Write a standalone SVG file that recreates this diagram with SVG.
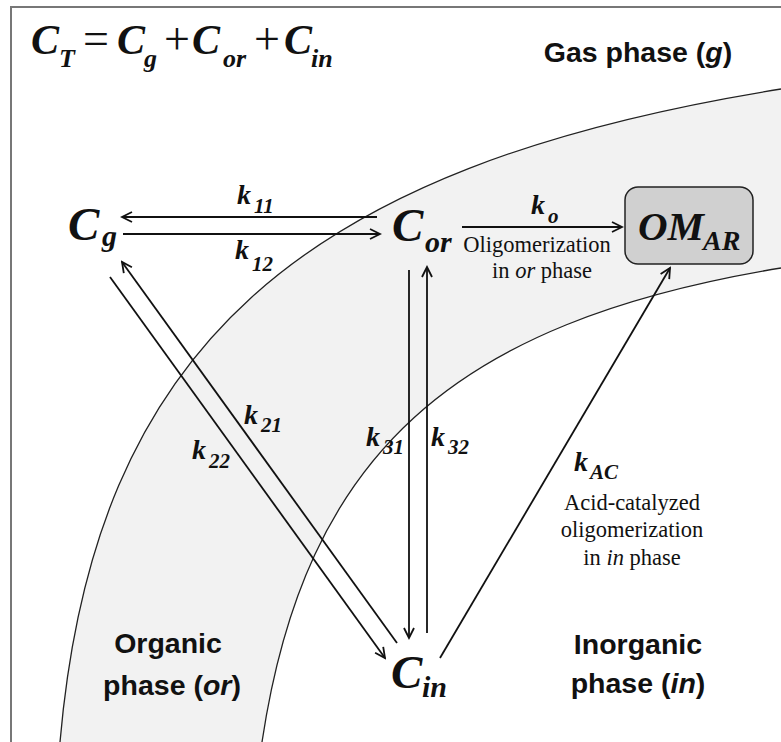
<svg xmlns="http://www.w3.org/2000/svg" width="781" height="742" viewBox="0 0 781 742">
<defs>
<marker id="ah" markerUnits="userSpaceOnUse" markerWidth="14" markerHeight="14" viewBox="0 0 14 14" refX="12" refY="7" orient="auto">
<path d="M2,2 L12,7 L2,12" fill="none" stroke="#111" stroke-width="1.8"/>
</marker>
<style>
.bi{font-family:"Liberation Serif",serif;font-weight:bold;font-style:italic;fill:#111}
.op{font-family:"Liberation Serif",serif;font-weight:normal;font-style:normal;fill:#111}
.rm{font-family:"Liberation Serif",serif;font-size:22.5px;fill:#111}
.ph{font-family:"Liberation Sans",sans-serif;font-weight:bold;font-size:28.5px;fill:#111}
.ln{fill:none;stroke:#111;stroke-width:1.8}
.arc{fill:none;stroke:#222;stroke-width:1.3}
</style>
</defs>
<rect width="781" height="742" fill="#fff"/>
<g id="background">
<path d="M781,89 C296,166.6 94,349.5 60,742 L262,742 C305,455.4 450.5,322.5 781,268 Z" fill="#f2f2f2"/>
<path class="arc" d="M781,89 C296,166.6 94,349.5 60,742"/>
<path class="arc" d="M262,742 C305,455.4 450.5,322.5 781,268"/>
<path d="M11,742 L11,7 L781,7" fill="none" stroke="#777" stroke-width="2"/>
</g>
<g id="formula">
<text class="bi" font-size="42"><tspan x="31" y="54">C</tspan><tspan x="59" y="67" font-size="26">T</tspan><tspan class="op" x="83" y="54" font-size="46">=</tspan><tspan x="117" y="54">C</tspan><tspan x="144" y="67" font-size="26">g</tspan><tspan class="op" x="164" y="54" font-size="46">+</tspan><tspan x="192" y="54">C</tspan><tspan x="223" y="67" font-size="26">or</tspan><tspan class="op" x="254" y="54" font-size="46">+</tspan><tspan x="284" y="54">C</tspan><tspan x="311" y="67" font-size="26">in</tspan></text>
</g>
<g id="gas-phase">
<text class="ph" x="638" y="62" text-anchor="middle">Gas phase (<tspan font-style="italic">g</tspan>)</text>
</g>
<g id="organic-phase">
<text class="ph" text-anchor="middle"><tspan x="168" y="653">Organic</tspan><tspan x="172" y="695">phase (<tspan font-style="italic">or</tspan>)</tspan></text>
</g>
<g id="inorganic-phase">
<text class="ph" text-anchor="middle"><tspan x="638" y="654">Inorganic</tspan><tspan x="638" y="693">phase (<tspan font-style="italic">in</tspan>)</tspan></text>
</g>
<g id="Cg">
<text class="bi" font-size="47"><tspan x="68" y="240">C</tspan><tspan x="102" y="246" font-size="30">g</tspan></text>
</g>
<g id="Cor">
<text class="bi" font-size="47"><tspan x="392" y="241">C</tspan><tspan x="425" y="252" font-size="30">or</tspan></text>
</g>
<g id="Cin">
<text class="bi" font-size="47"><tspan x="391" y="688">C</tspan><tspan x="422" y="697" font-size="30">in</tspan></text>
</g>
<g id="OMAR">
<rect x="625" y="187" width="128" height="77" rx="13" ry="13" fill="#d0d0d0" stroke="#222" stroke-width="1.5"/>
<text class="bi" font-size="41"><tspan x="638" y="240">OM</tspan><tspan x="703" y="250" font-size="28">AR</tspan></text>
</g>
<g id="connectors">
<line class="ln" x1="377" y1="217" x2="122" y2="217" marker-end="url(#ah)"/>
<line class="ln" x1="123" y1="234" x2="380" y2="234" marker-end="url(#ah)"/>
<line class="ln" x1="462" y1="227" x2="622" y2="227" marker-end="url(#ah)"/>
<line class="ln" x1="110" y1="277" x2="385" y2="658" marker-end="url(#ah)"/>
<line class="ln" x1="397" y1="643" x2="122" y2="262" marker-end="url(#ah)"/>
<line class="ln" x1="409" y1="270" x2="409" y2="638" marker-end="url(#ah)"/>
<line class="ln" x1="427" y1="633" x2="427" y2="267" marker-end="url(#ah)"/>
<line class="ln" x1="440" y1="658" x2="670" y2="268" marker-end="url(#ah)"/>
<text class="bi" font-size="28"><tspan x="237" y="204">k</tspan><tspan x="254" y="213" font-size="21">11</tspan></text>
<text class="bi" font-size="28"><tspan x="235" y="259">k</tspan><tspan x="252" y="271" font-size="21">12</tspan></text>
<text class="bi" font-size="28"><tspan x="531" y="214">k</tspan><tspan x="548" y="223" font-size="21">o</tspan></text>
<text class="bi" font-size="28"><tspan x="244" y="424">k</tspan><tspan x="261" y="432" font-size="21">21</tspan></text>
<text class="bi" font-size="28"><tspan x="192" y="459">k</tspan><tspan x="209" y="468" font-size="21">22</tspan></text>
<text class="bi" font-size="28"><tspan x="366" y="446">k</tspan><tspan x="383" y="454" font-size="21">31</tspan></text>
<text class="bi" font-size="28"><tspan x="431" y="446">k</tspan><tspan x="448" y="454" font-size="21">32</tspan></text>
<text class="bi" font-size="28"><tspan x="574" y="471">k</tspan><tspan x="590" y="479" font-size="21">AC</tspan></text>
<text class="rm" text-anchor="middle"><tspan x="537" y="252">Oligomerization</tspan><tspan x="542" y="278">in <tspan font-style="italic">or</tspan> phase</tspan></text>
<text class="rm" text-anchor="middle"><tspan x="632" y="510">Acid-catalyzed</tspan><tspan x="632" y="537">oligomerization</tspan><tspan x="632" y="565">in <tspan font-style="italic">in</tspan> phase</tspan></text>
</g>
</svg>
